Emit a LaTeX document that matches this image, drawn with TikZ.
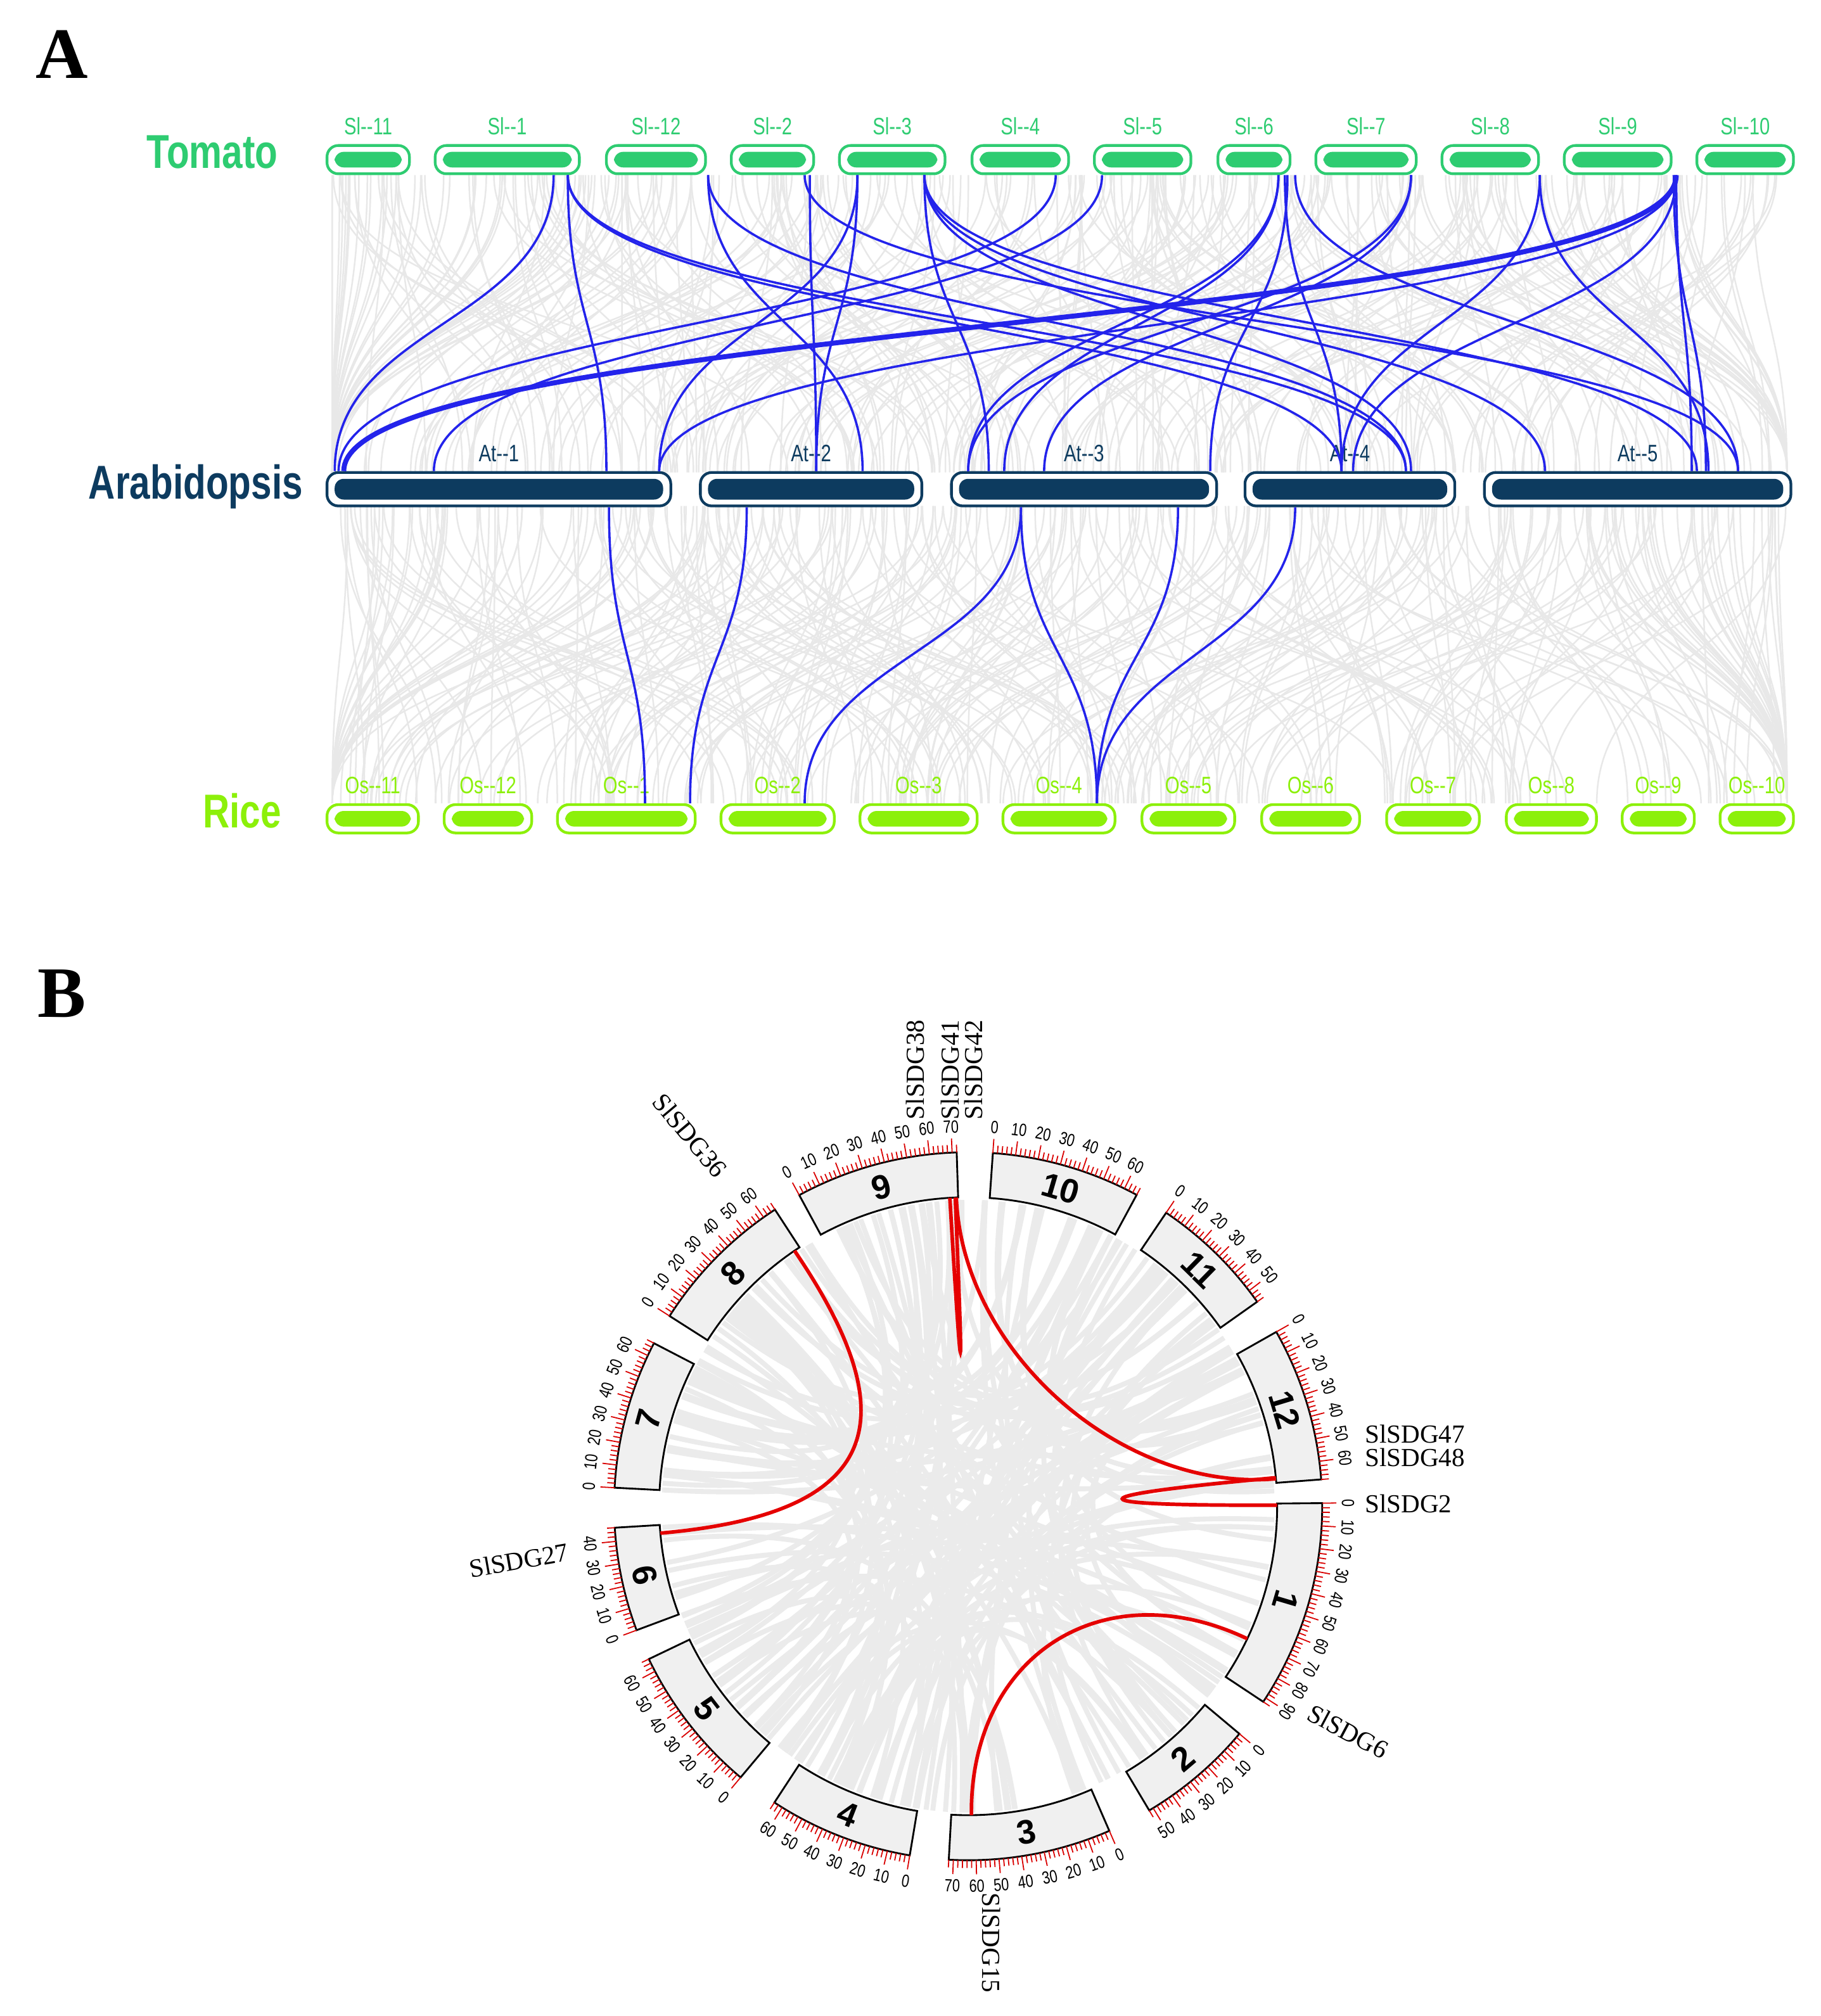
\documentclass[tikz,border=0pt]{standalone}
\usepackage{fontspec}
\setmainfont{Liberation Serif}
\newfontfamily\nar{Liberation Sans}[FakeStretch=0.78]
\newfontfamily\sans{Liberation Sans}
\usetikzlibrary{calc}
\definecolor{tom}{RGB}{46,204,113}
\definecolor{ara}{RGB}{13,59,95}
\definecolor{ric}{RGB}{140,240,10}
\definecolor{blk}{RGB}{35,35,235}
\tikzset{
 chr/.style={draw=#1,line width=1.2pt,rounded corners=5pt,fill=white,inner sep=0pt},
 glinkA/.style={draw=gray!18,line width=0.7pt},
 blink/.style={draw=blk,line width=1.0pt},
 cbox/.style={draw=black,fill=gray!12,line width=0.8pt},
 glink/.style={draw=gray!16,line width=2.2pt},
 rlink/.style={draw=red!90!black,line width=1.6pt},
 gene/.style={font=\fontsize{11.5}{11.5}\selectfont,inner sep=0pt},
 tick/.style={draw=red!85!black,line width=0.5pt},
 num/.style={font=\nar\fontsize{7.8}{7.8}\selectfont,inner sep=0.5pt},
}
\newcommand\chrbox[7]{% name,x1,x2,y,color,label,height
 \node[chr=#5,minimum width={(#3-#2)*0.02cm},minimum height={#7*0.02cm}] (#1) at ({(#2+#3)/2},#4) {};
 \fill[#5,rounded corners=4pt] ([shift={(7,6)}]#1.north west) rectangle ([shift={(-7,-6)}]#1.south east);
 \node[font=\nar\fontsize{10.5}{10.5}\selectfont,text=#5,anchor=south] (#1l) at ($(#1.north)+(0,-1)$) {#6};
}
\begin{document}
\begin{tikzpicture}[x=0.02cm,y=-0.02cm]
\useasboundingbox (0,0) rectangle (1414,1566);
% ---------- Part A ----------
\node[font=\bfseries\fontsize{32}{32}\selectfont] (A) at (48,42) {A};
\pgfmathsetseed{11}
\foreach \i in {1,...,320}{
 \pgfmathsetmacro\u{258+rnd*1132}\pgfmathsetmacro\v{\u+(rnd-0.5)*700}
 \pgfmathsetmacro\v{max(258,min(1388,\v))}
 \draw[glinkA] (\u,136) .. controls (\u,250) and (\v,252) .. (\v,367);}
\foreach \i in {1,...,320}{
 \pgfmathsetmacro\u{258+rnd*1132}\pgfmathsetmacro\v{\u+(rnd-0.5)*700}
 \pgfmathsetmacro\v{max(258,min(1388,\v))}
 \draw[glinkA] (\u,393) .. controls (\u,510) and (\v,510) .. (\v,624);}
\node[font=\nar\bfseries\fontsize{21}{21}\selectfont,text=tom] (tomato) at (165,118) {Tomato};
\node[font=\nar\bfseries\fontsize{21}{21}\selectfont,text=ara] (arab) at (152,378) {Arabidopsis};
\node[font=\nar\bfseries\fontsize{21}{21}\selectfont,text=ric] (rice) at (188,630) {Rice};
\chrbox{sl11}{254}{318}{124}{tom}{Sl--11}{22}
\chrbox{sl1}{338}{450}{124}{tom}{Sl--1}{22}
\chrbox{sl12}{471}{548}{124}{tom}{Sl--12}{22}
\chrbox{sl2}{568}{632}{124}{tom}{Sl--2}{22}
\chrbox{sl3}{652}{734}{124}{tom}{Sl--3}{22}
\chrbox{sl4}{755}{830}{124}{tom}{Sl--4}{22}
\chrbox{sl5}{850}{925}{124}{tom}{Sl--5}{22}
\chrbox{sl6}{946}{1002}{124}{tom}{Sl--6}{22}
\chrbox{sl7}{1022}{1100}{124}{tom}{Sl--7}{22}
\chrbox{sl8}{1120}{1195}{124}{tom}{Sl--8}{22}
\chrbox{sl9}{1215}{1298}{124}{tom}{Sl--9}{22}
\chrbox{sl10}{1318}{1393}{124}{tom}{Sl--10}{22}
\chrbox{at1}{254}{521}{380}{ara}{At--1}{26}
\chrbox{at2}{544}{716}{380}{ara}{At--2}{26}
\chrbox{at3}{739}{945}{380}{ara}{At--3}{26}
\chrbox{at4}{967}{1130}{380}{ara}{At--4}{26}
\chrbox{at5}{1153}{1391}{380}{ara}{At--5}{26}
\chrbox{os11}{254}{325}{636}{ric}{Os--11}{22}
\chrbox{os12}{345}{413}{636}{ric}{Os--12}{22}
\chrbox{os1}{433}{540}{636}{ric}{Os--1}{22}
\chrbox{os2}{560}{648}{636}{ric}{Os--2}{22}
\chrbox{os3}{668}{759}{636}{ric}{Os--3}{22}
\chrbox{os4}{779}{866}{636}{ric}{Os--4}{22}
\chrbox{os5}{887}{959}{636}{ric}{Os--5}{22}
\chrbox{os6}{980}{1056}{636}{ric}{Os--6}{22}
\chrbox{os7}{1077}{1149}{636}{ric}{Os--7}{22}
\chrbox{os8}{1170}{1240}{636}{ric}{Os--8}{22}
\chrbox{os9}{1260}{1316}{636}{ric}{Os--9}{22}
\chrbox{os10}{1336}{1393}{636}{ric}{Os--10}{22}
% blue links tomato -> arabidopsis
\foreach \a/\b in {430/260,441/471,441/1042,441/1092,550/670,550/1092,625/1350,629/634,666/634,666/512,718/768,718/1096,718/1200,718/1318,
 820/263,856/337,993/752,993/780,998/1042,1006/1350,1000/940,1096/752,1096/811,1196/1042,1196/1327,1302/512,1302/1051,1302/1314,1300/1325}{
 \draw[blink] (\a,0 |- sl1.south) .. controls (\a,251) and (\b,251) .. (\b,0 |- at1.north);}
\draw[blink,line width=2.2pt] (1302,0 |- sl9.south) .. controls (1302,251) and (267,251) .. (267,0 |- at1.north);
\foreach \a/\b in {473/501,580/536,793/625,793/852,915/852,1006/852}{
 \draw[blink] (\a,0 |- at1.south) .. controls (\a,508) and (\b,508) .. (\b,0 |- os1.north);}
% ---------- Part B ----------
\node[font=\bfseries\fontsize{32}{32}\selectfont] (B) at (48,772) {B};
\begin{scope}[shift={(752,1170)},yscale=-1]
 \coordinate (ctr) at (0,0);
 \pgfmathsetseed{5}
 \foreach \i in {1,...,150}{
  \pgfmathsetmacro\p{rnd*360}\pgfmathsetmacro\q{\p+60+rnd*240}
  \draw[glink] (\p:238) .. controls (\p:70) and (\q:70) .. (\q:238);}
 \foreach \c/\s/\L in {1/0.5/92,2/-40/52,3/-66.5/72,4/-99.5/64,5/-130/66,6/-159.5/46,7/-183/66,8/-212.5/66,9/-241.5/72,10/-274/66,11/-304/56,12/-330.5/68}{
  \pgfmathsetmacro\e{\s-0.37*\L}
  \draw[cbox] plot[domain=\s:\e,samples=40] (\x:240) -- plot[domain=\e:\s,samples=40] (\x:275) -- cycle;
  \pgfmathsetmacro\md{(\s+\e)/2}
  \pgfmathsetmacro\mn{\md<-180 ? \md+360 : \md}
  \pgfmathtruncatemacro\fl{\mn<-36 ? 1 : 0}
  \pgfmathsetmacro\rt{\fl==1 ? \mn+90 : \mn-90}
  \node[font=\sans\bfseries\fontsize{15}{15}\selectfont,rotate=\rt] (chr\c) at (\md:257) {\c};
  \foreach \k in {0,2,...,\L}{
   \pgfmathsetmacro\a{\s-0.37*\k}
   \pgfmathtruncatemacro\m{mod(\k,10)}
   \ifnum\m=0
    \draw[tick] (\a:275) -- (\a:286);
    \pgfmathsetmacro\an{\a<-180 ? \a+360 : \a}
    \pgfmathtruncatemacro\fk{\an<-36 ? 1 : 0}
    \ifnum\fk=1
     \pgfmathsetmacro\rr{\an+90}
     \node[num,rotate=\rr,anchor=north] at (\a:289) {\k};
    \else
     \pgfmathsetmacro\rr{\an-90}
     \node[num,rotate=\rr,anchor=south] at (\a:289) {\k};
    \fi
   \else
    \draw[tick] (\a:275) -- (\a:281);
   \fi
  }
 }
 % red links
 \draw[rlink] (124.2:240) .. controls (124.2:74) and (-175:74) .. (-175:240);
 \draw[rlink] (92.2:240) .. controls (92.2:120) and (5.1:120) .. (5.1:240);
 \draw[rlink] (93.4:240) .. controls (93.4:80) and (92.4:80) .. (92.4:240);
 \draw[rlink] (5.3:240) .. controls (5.3:80) and (0.2:80) .. (0.2:240);
 \draw[rlink] (-25.4:240) .. controls (-25.4:116) and (-89.4:116) .. (-89.4:240);
\end{scope}
\node[gene,rotate=90,anchor=west] (g38) at (711,870) {SlSDG38};
\node[gene,rotate=90,anchor=west] (g41) at (738,870) {SlSDG41};
\node[gene,rotate=90,anchor=west] (g42) at (756,870) {SlSDG42};
\node[gene,rotate=-50] (g36) at (536,882) {SlSDG36};
\node[gene,anchor=west] (g47) at (1060,1114) {SlSDG47};
\node[gene,anchor=west] (g48) at (1060,1132) {SlSDG48};
\node[gene,anchor=west] (g2) at (1060,1168) {SlSDG2};
\node[gene,rotate=-28] (g6) at (1047,1345) {SlSDG6};
\node[gene,rotate=-90,anchor=west] (g15) at (770,1470) {SlSDG15};
\node[gene,rotate=10] (g27) at (403,1212) {SlSDG27};
\end{tikzpicture}
\end{document}
